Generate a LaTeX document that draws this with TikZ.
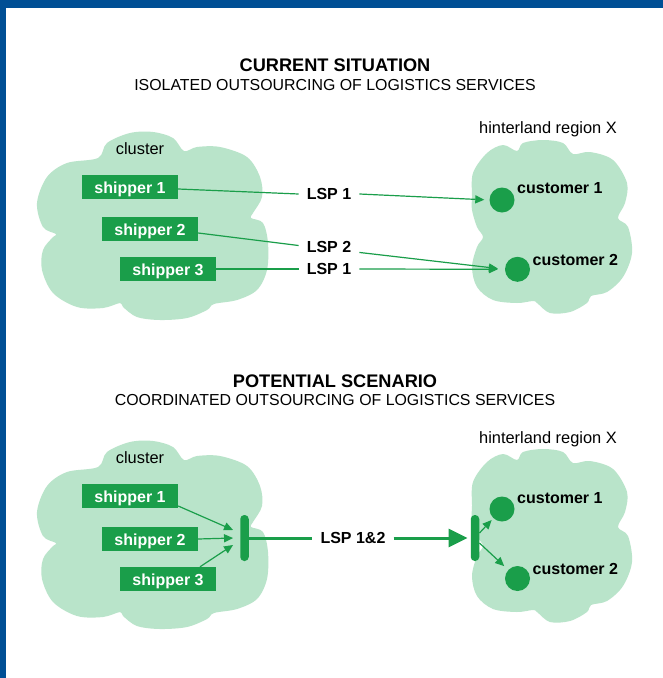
\documentclass[tikz,border=0pt]{standalone}
\usepackage{fontspec}
\setmainfont{Liberation Sans}
\usetikzlibrary{arrows.meta}
\definecolor{mygreen}{RGB}{26,158,74}
\definecolor{cloudgreen}{RGB}{185,228,202}
\definecolor{borderblue}{RGB}{0,79,149}
\newcommand{\myTitle}{\fontsize{18.2}{21}\selectfont\bfseries}
\newcommand{\mySub}{\fontsize{15.9}{19}\selectfont}
\newcommand{\myB}{\fontsize{16}{19}\selectfont\bfseries}
\newcommand{\myR}{\fontsize{16.4}{19}\selectfont}
\newcommand{\leftcloud}{%
  \fill[cloudgreen] plot[smooth cycle, tension=0.55] coordinates {
    (37,203) (47,177) (67,163) (98,158) (107,143) (130,133) (153,132) (173,138)
    (184,151) (197,147) (220,147) (247,157) (260,177) (262,197) (253,213) (251,218)
    (263,223) (268,243) (267,270) (257,290) (237,300) (214,304) (207,310) (187,318)
    (160,320) (137,317) (123,307) (120,303) (103,308) (77,307) (53,293) (42,270)
    (43,250) (53,237) (56,234) (43,227)};
}
\newcommand{\rightcloud}{%
  \fill[cloudgreen] plot[smooth cycle, tension=0.55] coordinates {
    (472,197) (473,173) (487,153) (503,145) (517,151) (523,143) (543,140) (563,143)
    (573,154) (590,152) (613,160) (627,183) (625,203) (618,218) (628,227) (632,253)
    (623,277) (607,292) (591,296) (587,303) (570,312) (550,313) (537,303) (533,301)
    (517,303) (493,300) (477,287) (472,267) (477,247) (483,237) (477,227) (472,210)};
}
\tikzset{
  shipbox/.style={fill=mygreen, text=white, font=\myB, minimum width=96pt, minimum height=24pt, inner sep=0pt, text height=12pt, text depth=0pt},
  lbl/.style={font=\myR, inner sep=0pt, anchor=base, text=black},
  clabel/.style={font=\myB, inner sep=0pt, anchor=base west, text=black},
  lsp/.style={font=\myB, inner xsep=8pt, inner ysep=0pt, text height=11.5pt, text depth=0pt, text=black},
  dot/.style={circle, fill=mygreen, minimum size=25pt, inner sep=0pt},
  conn/.style={draw=mygreen, line width=1.2pt},
  arr/.style={conn, -{Triangle[length=9pt,width=8pt]}},
  barnode/.style={fill=mygreen, rounded corners=4pt, minimum width=8.5pt, minimum height=46pt, inner sep=0pt},
  thick conn/.style={draw=mygreen, line width=3pt},
}
\begin{document}
\begin{tikzpicture}[x=1pt,y=-1pt]
\useasboundingbox (0,0) rectangle (663,678);
\fill[white] (0,0) rectangle (663,678);
\fill[borderblue] (0,0) rectangle (663,8);
\fill[borderblue] (0,0) rectangle (6,678);

% ---------- current situation ----------
\node[font=\myTitle, inner sep=0pt, anchor=base] (t1) at (335,71) {CURRENT SITUATION};
\node[font=\mySub, inner sep=0pt, anchor=base] (st1) at (335,90) {ISOLATED OUTSOURCING OF LOGISTICS SERVICES};

\leftcloud
\rightcloud

\node[lbl] (cl1) at (140,154) {cluster};
\node[lbl] (hr1) at (548,133) {hinterland region X};

\node[shipbox] (s1) at (130,187) {shipper 1};
\node[shipbox] (s2) at (150,229) {shipper 2};
\node[shipbox] (s3) at (168,269) {shipper 3};

\node[lsp] (l1) at (329,194) {LSP 1};
\node[lsp] (l2) at (329,246.5) {LSP 2};
\node[lsp] (l3) at (329,269) {LSP 1};

\node[dot] (c1) at (502,200) {};
\node[dot] (c2) at (517.5,269.3) {};
\node[clabel] (c1t) at ([xshift=15pt,yshift=7pt]c1.center) {customer 1};
\node[clabel] (c2t) at ([xshift=15pt,yshift=4pt]c2.center) {customer 2};

\draw[conn] ([yshift=-2pt]s1.east) -- (l1.west);
\draw[conn] ([yshift=-4pt]s2.east) -- ([yshift=1pt]l2.west);
\draw[conn] (s3.east) -- (l3.west);
\draw[arr, shorten >=5pt] (l1.east) -- (c1.west);
\draw[arr, shorten >=7pt] (l2.south east) -- (c2.west);
\draw[arr, shorten >=7pt] (l3.east) -- (c2.west);

% ---------- potential scenario ----------
\node[font=\myTitle, inner sep=0pt, anchor=base] (t2) at (335,387) {POTENTIAL SCENARIO};
\node[font=\mySub, inner sep=0pt, anchor=base] (st2) at (335,405) {COORDINATED OUTSOURCING OF LOGISTICS SERVICES};

\begin{scope}[shift={(0,309)}]
\leftcloud
\rightcloud
\end{scope}

\node[lbl] (cl2) at (140,463) {cluster};
\node[lbl] (hr2) at (548,443) {hinterland region X};

\node[shipbox] (s1b) at (130,496) {shipper 1};
\node[shipbox] (s2b) at (150,539) {shipper 2};
\node[shipbox] (s3b) at (168,579) {shipper 3};

\node[barnode] (barL) at (244.5,538) {};
\node[barnode] (barR) at (475,538) {};

\node[lsp] (l12) at (353,538) {LSP 1\&2};

\node[dot] (c1b) at (502,509) {};
\node[dot] (c2b) at (517.5,578.5) {};
\node[clabel] (c1bt) at ([xshift=15pt,yshift=6pt]c1b.center) {customer 1};
\node[clabel] (c2bt) at ([xshift=15pt,yshift=4pt]c2b.center) {customer 2};

\draw[arr] ([yshift=-10pt]s1b.east) -- ([xshift=-7pt,yshift=8pt]barL.west);
\draw[arr] (s2b.east) -- ([xshift=-7pt]barL.west);
\draw[arr] ([xshift=32pt]s3b.north) -- ([xshift=-7pt,yshift=-7pt]barL.west);

\draw[thick conn] (barL.east) -- (l12.west);
\draw[thick conn, -{Triangle[length=19pt,width=18pt]}, shorten >=3pt] (l12.east) -- (barR.west);

\draw[arr, shorten >=2.5pt] ([yshift=5pt]barR.east) -- (c1b);
\draw[arr, shorten >=5.5pt] ([yshift=-5pt]barR.east) -- (c2b);
\end{tikzpicture}
\end{document}
